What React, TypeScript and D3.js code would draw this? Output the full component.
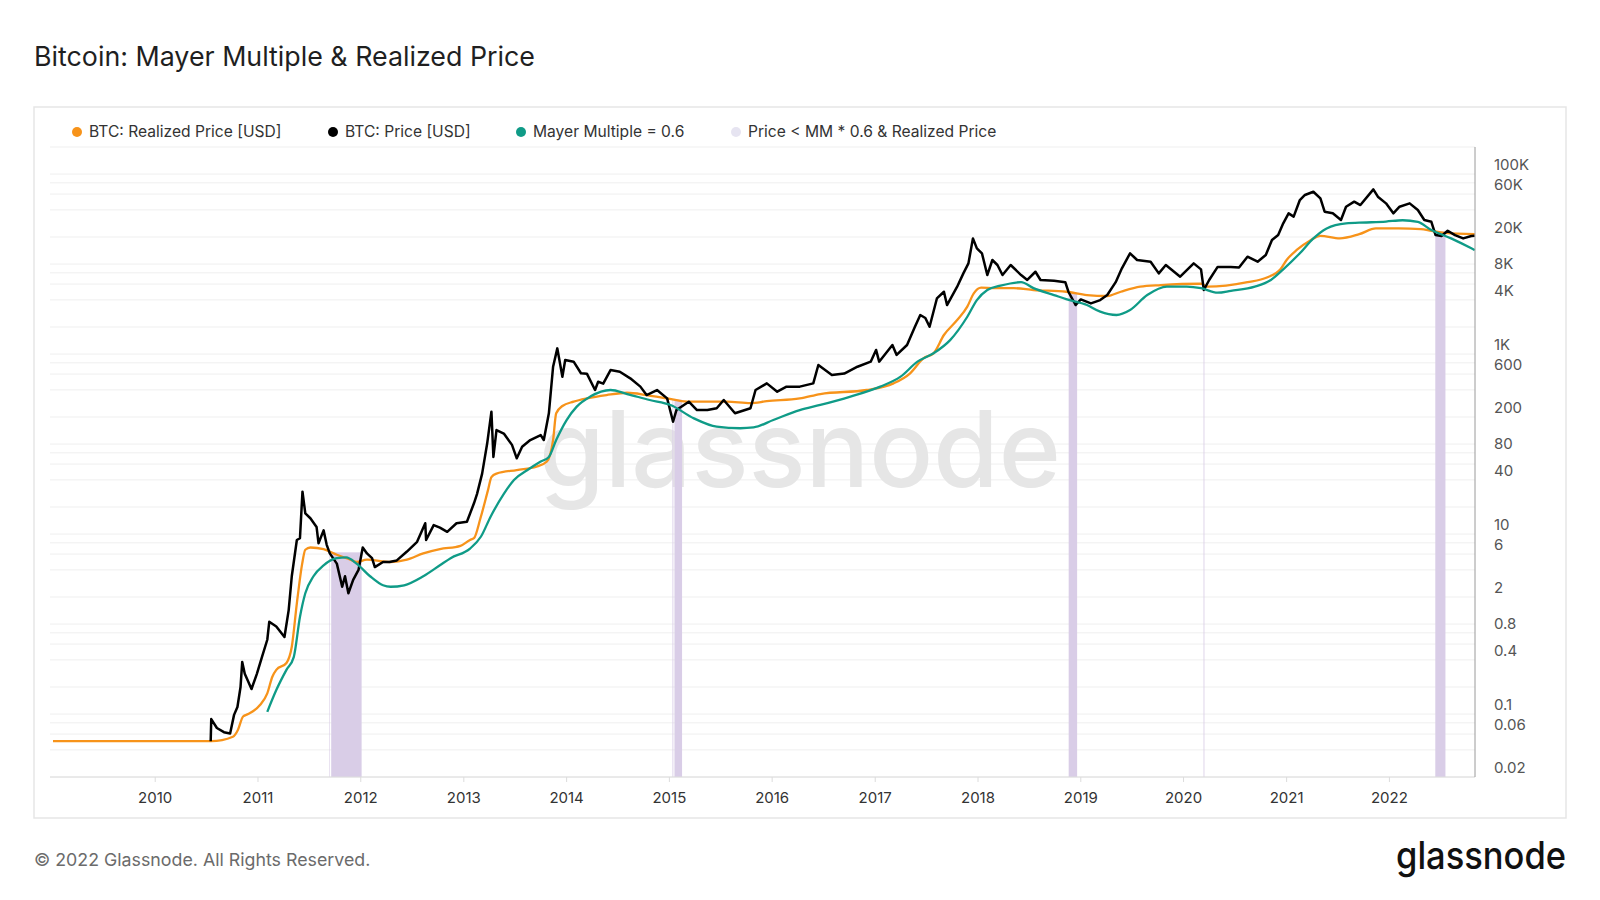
import React from 'react';
import * as d3 from 'd3';

type Pt = [string, number];

// BTC price [USD]
const priceSeries: Pt[] = [
  ['2010-07-17', 0.05], ['2010-07-19', 0.088], ['2010-08-08', 0.07], ['2010-09-02', 0.063], ['2010-09-24', 0.061],
  ['2010-10-08', 0.098], ['2010-10-20', 0.12], ['2010-10-31', 0.2], ['2010-11-06', 0.38], ['2010-11-15', 0.28],
  ['2010-12-09', 0.19], ['2010-12-28', 0.28], ['2011-01-15', 0.43], ['2011-02-03', 0.67], ['2011-02-10', 1.06],
  ['2011-03-07', 0.94], ['2011-04-05', 0.72], ['2011-04-20', 1.43], ['2011-05-01', 3.4], ['2011-05-19', 8.6],
  ['2011-05-30', 9], ['2011-06-08', 29.6], ['2011-06-18', 17], ['2011-07-06', 15], ['2011-07-28', 12],
  ['2011-08-04', 7.9], ['2011-08-22', 11], ['2011-09-02', 7.6], ['2011-09-13', 6.1], ['2011-10-08', 4.7],
  ['2011-10-27', 2.6], ['2011-11-06', 3.4], ['2011-11-18', 2.2], ['2011-12-05', 3.1], ['2011-12-24', 4],
  ['2012-01-08', 7.1], ['2012-01-23', 6.1], ['2012-02-10', 5.4], ['2012-02-20', 4.3], ['2012-03-20', 4.9],
  ['2012-04-12', 4.9], ['2012-05-08', 5.1], ['2012-06-13', 6.4], ['2012-07-19', 8.2], ['2012-08-17', 13.2], ['2012-08-20', 8.6],
  ['2012-09-16', 12.6], ['2012-10-08', 11.8], ['2012-11-03', 10.6], ['2012-12-06', 13.2], ['2013-01-12', 13.7],
  ['2013-02-06', 22], ['2013-02-17', 28], ['2013-03-07', 47], ['2013-03-25', 102], ['2013-04-09', 229],
  ['2013-04-16', 72], ['2013-04-27', 143], ['2013-05-23', 131], ['2013-06-21', 98], ['2013-07-08', 69.5],
  ['2013-07-27', 93.5], ['2013-08-25', 111], ['2013-10-01', 126], ['2013-10-12', 111], ['2013-10-30', 220],
  ['2013-11-14', 724], ['2013-11-29', 1158], ['2013-12-17', 561], ['2013-12-27', 859], ['2014-01-26', 824],
  ['2014-02-21', 612], ['2014-03-14', 606], ['2014-04-12', 399], ['2014-04-23', 493], ['2014-05-11', 470],
  ['2014-06-06', 665], ['2014-07-09', 637], ['2014-08-15', 538], ['2014-09-20', 435], ['2014-10-12', 351],
  ['2014-11-18', 399], ['2014-12-24', 322], ['2015-01-14', 177], ['2015-01-26', 239], ['2015-03-11', 296],
  ['2015-04-09', 239], ['2015-05-16', 239], ['2015-06-18', 250], ['2015-07-13', 309], ['2015-08-22', 220],
  ['2015-10-16', 250], ['2015-11-03', 399], ['2015-12-13', 473], ['2016-01-19', 382], ['2016-02-21', 435],
  ['2016-04-08', 435], ['2016-05-26', 473], ['2016-06-13', 757], ['2016-07-31', 586], ['2016-09-13', 607],
  ['2016-10-30', 724], ['2016-12-16', 824], ['2017-01-04', 1112], ['2017-01-15', 824], ['2017-03-03', 1262],
  ['2017-03-18', 978], ['2017-04-24', 1262], ['2017-05-22', 2012], ['2017-06-10', 2716], ['2017-06-28', 2517],
  ['2017-07-13', 2012], ['2017-08-08', 4150], ['2017-09-02', 4930], ['2017-09-13', 3508], ['2017-10-19', 5610],
  ['2017-11-10', 7890], ['2017-11-28', 10190], ['2017-12-14', 19300], ['2017-12-28', 14960], ['2018-01-15', 13180],
  ['2018-02-03', 7560], ['2018-02-21', 11100], ['2018-03-11', 9770], ['2018-03-29', 7560], ['2018-04-27', 9770],
  ['2018-06-03', 7560], ['2018-06-25', 6660], ['2018-07-24', 8220], ['2018-08-11', 6660], ['2018-09-28', 6540],
  ['2018-11-07', 6300], ['2018-11-18', 4930], ['2018-12-14', 3508], ['2019-01-01', 4050], ['2019-02-06', 3660],
  ['2019-03-11', 3980], ['2019-04-05', 4530], ['2019-05-05', 6300], ['2019-05-27', 8970], ['2019-06-25', 13180],
  ['2019-07-20', 11100], ['2019-09-06', 10640], ['2019-10-05', 7890], ['2019-10-30', 9770], ['2019-12-20', 7250],
  ['2020-02-06', 10190], ['2020-03-03', 8740], ['2020-03-13', 5150], ['2020-04-01', 6660], ['2020-05-01', 9300],
  ['2020-06-17', 9300], ['2020-07-16', 9150], ['2020-08-15', 12080], ['2020-09-20', 10640], ['2020-10-19', 12620],
  ['2020-11-10', 18530], ['2020-12-02', 21040], ['2020-12-20', 28380], ['2021-01-08', 36640], ['2021-01-26', 33650],
  ['2021-02-17', 51520], ['2021-03-07', 58600], ['2021-04-06', 63700], ['2021-05-01', 53700], ['2021-05-16', 38200],
  ['2021-06-14', 36640], ['2021-07-13', 30900], ['2021-07-31', 43400], ['2021-08-29', 49400], ['2021-09-20', 45300],
  ['2021-11-05', 67700], ['2021-11-21', 56100], ['2021-12-20', 47300], ['2022-01-15', 36640], ['2022-02-06', 43400],
  ['2022-03-14', 47300], ['2022-04-12', 39900], ['2022-05-05', 30900], ['2022-05-30', 29500], ['2022-06-14', 21040],
  ['2022-07-05', 20500], ['2022-07-27', 23500], ['2022-08-22', 21000], ['2022-09-20', 19300], ['2022-10-19', 20500],
  ['2022-10-31', 20600],
];

// BTC realized price [USD]
const realizedSeries: Pt[] = [
  ['2009-01-03', 0.05], ['2010-07-19', 0.05], ['2010-10-04', 0.056], ['2010-10-22', 0.067], ['2010-11-09', 0.094],
  ['2010-11-27', 0.1], ['2011-01-08', 0.126], ['2011-02-03', 0.17], ['2011-02-21', 0.26], ['2011-03-07', 0.31],
  ['2011-04-12', 0.37], ['2011-05-01', 0.56], ['2011-05-19', 1.7], ['2011-06-07', 4.7], ['2011-06-18', 6.7],
  ['2011-07-06', 7.1], ['2011-08-22', 6.8], ['2011-10-08', 5.9], ['2011-11-25', 5.2], ['2011-12-17', 4.9],
  ['2012-01-23', 5.2], ['2012-04-16', 4.9], ['2012-06-13', 5.2], ['2012-08-10', 6.1], ['2012-10-08', 6.8],
  ['2012-12-20', 7.4], ['2013-01-23', 8.6], ['2013-02-06', 9], ['2013-03-01', 15], ['2013-03-28', 31],
  ['2013-04-09', 43], ['2013-04-27', 47], ['2013-07-08', 51.5], ['2013-09-16', 56], ['2013-10-23', 64],
  ['2013-11-14', 111], ['2013-11-25', 220], ['2013-12-17', 265], ['2014-01-26', 296], ['2014-03-14', 322],
  ['2014-05-23', 351], ['2014-08-04', 372], ['2014-10-12', 351], ['2014-12-24', 322], ['2015-03-04', 296],
  ['2015-07-24', 296], ['2015-10-16', 285], ['2015-12-13', 300], ['2016-04-08', 322], ['2016-06-20', 360],
  ['2016-12-02', 399], ['2017-03-07', 473], ['2017-05-05', 612], ['2017-06-21', 898], ['2017-07-27', 1020],
  ['2017-09-02', 1630], ['2017-10-19', 2390], ['2017-11-24', 3370], ['2017-12-17', 4730], ['2018-01-12', 5470],
  ['2018-02-28', 5400], ['2018-05-08', 5400], ['2018-07-17', 5150], ['2018-11-10', 4930], ['2019-01-23', 4530],
  ['2019-04-05', 4420], ['2019-05-23', 4930], ['2019-07-31', 5610], ['2019-10-12', 5840], ['2020-03-03', 6050],
  ['2020-03-25', 5610], ['2020-08-15', 6300], ['2020-10-23', 7100], ['2020-12-10', 8740], ['2021-01-01', 11100],
  ['2021-02-06', 14350], ['2021-03-26', 18300], ['2021-05-01', 20600], ['2021-07-09', 19300], ['2021-09-16', 21500],
  ['2021-11-14', 24900], ['2022-02-03', 24900], ['2022-04-23', 24500], ['2022-05-30', 23400], ['2022-07-17', 22200],
  ['2022-10-31', 21500],
];

// Mayer Multiple = 0.6 (0.6 x 200d moving average)
const mayerSeries: Pt[] = [
  ['2011-02-03', 0.106], ['2011-03-07', 0.185], ['2011-04-12', 0.31], ['2011-05-08', 0.43], ['2011-05-30', 1.2],
  ['2011-06-18', 2.2], ['2011-07-17', 3.4], ['2011-08-22', 4.5], ['2011-10-08', 5.4], ['2011-11-10', 5.5],
  ['2011-12-17', 4.7], ['2012-02-03', 3.4], ['2012-03-20', 2.7], ['2012-04-16', 2.6], ['2012-06-03', 2.7],
  ['2012-08-10', 3.4], ['2012-10-08', 4.5], ['2012-11-15', 5.4], ['2013-01-23', 6.9], ['2013-03-03', 9.4],
  ['2013-04-06', 15.6], ['2013-05-23', 28], ['2013-06-28', 40], ['2013-08-15', 51.5], ['2013-10-01', 64],
  ['2013-10-30', 72], ['2013-11-25', 111], ['2014-01-01', 185], ['2014-02-06', 261], ['2014-03-26', 337],
  ['2014-06-06', 399], ['2014-08-04', 360], ['2014-10-23', 309], ['2015-01-05', 272], ['2015-03-29', 193],
  ['2015-06-18', 156], ['2015-09-10', 150], ['2015-10-27', 153], ['2016-01-05', 185], ['2016-04-08', 239],
  ['2016-06-20', 272], ['2016-10-05', 337], ['2017-01-19', 435], ['2017-04-01', 561], ['2017-05-31', 824],
  ['2017-07-27', 1020], ['2017-09-24', 1430], ['2017-11-24', 2600], ['2017-12-28', 3980], ['2018-02-03', 5150],
  ['2018-03-22', 5760], ['2018-06-03', 6300], ['2018-07-17', 5400], ['2018-09-28', 4530], ['2018-11-10', 4080],
  ['2019-01-23', 3510], ['2019-03-11', 2960], ['2019-05-08', 2720], ['2019-06-25', 3090], ['2019-08-25', 4530],
  ['2019-11-03', 5620], ['2020-01-12', 5620], ['2020-03-03', 5400], ['2020-05-01', 4810], ['2020-06-17', 5050],
  ['2020-09-10', 5610], ['2020-11-06', 6660], ['2020-12-20', 8740], ['2021-02-17', 13180], ['2021-04-06', 19300],
  ['2021-05-23', 24900], ['2021-07-31', 28380], ['2021-10-12', 29000], ['2021-12-20', 29700], ['2022-02-17', 30700],
  ['2022-04-12', 29400], ['2022-05-30', 23900], ['2022-08-08', 19300], ['2022-10-19', 14960], ['2022-10-31', 14300],
];

// periods where Price < MM * 0.6 & Realized Price
const bandPeriods: [string, string][] = [
  ['2011-09-11', '2011-09-13'], ['2011-09-18', '2012-01-04'],
  ['2015-01-12', '2015-01-15'], ['2015-01-19', '2015-02-15'],
  ['2018-11-19', '2018-12-19'],
  ['2020-03-12', '2020-03-15'],
  ['2022-06-13', '2022-07-19'],
];

const yearTicks = ['2010', '2011', '2012', '2013', '2014', '2015', '2016', '2017', '2018', '2019', '2020', '2021', '2022'];
const yTickValues = [100000, 60000, 20000, 8000, 4000, 1000, 600, 200, 80, 40, 10, 6, 2, 0.8, 0.4, 0.1, 0.06, 0.02];
const yTickLabels = ['100K', '60K', '20K', '8K', '4K', '1K', '600', '200', '80', '40', '10', '6', '2', '0.8', '0.4', '0.1', '0.06', '0.02'];
const gridMantissas = [1, 2, 4, 6, 8];

const legendItems = [
  { label: 'BTC: Realized Price [USD]', color: '#f7931a', x: 77 },
  { label: 'BTC: Price [USD]', color: '#000000', x: 333 },
  { label: 'Mayer Multiple = 0.6', color: '#0f9b87', x: 521 },
  { label: 'Price < MM * 0.6 & Realized Price', color: '#e6e4f1', x: 736 },
];

const FONT = 'Inter, "Noto Sans", sans-serif';

export default function App() {
  const parse = d3.utcParse('%Y-%m-%d');
  const left = 53, right = 1475, top = 147, bottom = 777;

  const x = d3.scaleUtc()
    .domain([parse('2009-01-03')!, parse('2022-11-01')!])
    .range([left, right]);
  const y = d3.scaleLog().domain([0.02, 200000]).range([bottom, top]);

  const toPts = (s: Pt[]) => s.map(([d, v]) => ({ date: parse(d)!, value: v }));
  const price = toPts(priceSeries);
  const realized = toPts(realizedSeries);
  const mayer = toPts(mayerSeries);

  const lineSharp = d3.line<{ date: Date; value: number }>()
    .x(d => x(d.date))
    .y(d => y(d.value));
  const lineSmooth = d3.line<{ date: Date; value: number }>()
    .x(d => x(d.date))
    .y(d => y(d.value))
    .curve(d3.curveMonotoneX);

  // grid values at 1,2,4,6,8 x 10^n inside the domain
  const gridValues: number[] = [];
  for (let e = -2; e <= 5; e++) {
    gridMantissas.forEach(m => {
      const v = m * Math.pow(10, e);
      if (v >= 0.02 - 1e-9 && v <= 200000 + 1e-6) gridValues.push(v);
    });
  }

  // top of a shaded band = realized price at that date
  const bis = d3.bisector((d: { date: Date }) => d.date).left;
  const realizedAt = (dt: Date) => {
    const i = Math.max(1, Math.min(realized.length - 1, bis(realized, dt)));
    const a = realized[i - 1], b = realized[i];
    const t = (+dt - +a.date) / (+b.date - +a.date);
    return Math.exp(Math.log(a.value) + t * (Math.log(b.value) - Math.log(a.value)));
  };

  return (
    <div style={{ position: 'absolute', left: 0, top: 0, width: 1600, height: 900, background: '#fff' }}>
      <svg width={1600} height={900} style={{ display: 'block' }} fontFamily={FONT}>
        <rect x={0} y={0} width={1600} height={900} fill="#fff" />
        <text x={34} y={66} fontSize={26.8} fill="#1f1f1f">Bitcoin: Mayer Multiple &amp; Realized Price</text>

        <rect x={34} y={107} width={1532} height={711} fill="#fff" stroke="#e6e6e6" strokeWidth={1.5} />

        {/* legend */}
        {legendItems.map(it => (
          <g key={it.label}>
            <circle cx={it.x} cy={132} r={5} fill={it.color} />
            <text x={it.x + 12} y={132} dy="0.35em" fontSize={15.6} fill="#333">{it.label}</text>
          </g>
        ))}

        {/* grid */}
        {gridValues.map(v => (
          <line key={v} x1={left - 3} x2={right} y1={y(v)} y2={y(v)} stroke="#efefef" strokeWidth={1} />
        ))}

        {/* watermark */}
        <text x={800} y={487} textAnchor="middle" fontSize={106} fontWeight={500} fill="#e6e6e6"
          textLength={522} lengthAdjust="spacingAndGlyphs">glassnode</text>

        {/* shaded periods */}
        {bandPeriods.map(([s, e]) => {
          const ds = parse(s)!, de = parse(e)!;
          const yt = y(realizedAt(ds));
          return (
            <rect key={s} x={x(ds)} y={yt} width={Math.max(0.5, x(de) - x(ds))} height={bottom - yt}
              fill="#d9cde7" />
          );
        })}

        {/* series */}
        <path d={lineSmooth(realized) || ''} fill="none" stroke="#f7931a" strokeWidth={2.3} />
        <path d={lineSharp(price) || ''} fill="none" stroke="#000" strokeWidth={2.5} strokeLinejoin="round" />
        <path d={lineSmooth(mayer) || ''} fill="none" stroke="#0f9b87" strokeWidth={2.3} />

        {/* x axis */}
        <line x1={left - 3} x2={right} y1={bottom} y2={bottom} stroke="#dcdcdc" />
        {yearTicks.map(yr => {
          const xx = x(parse(`${yr}-01-01`)!);
          return (
            <g key={yr}>
              <line x1={xx} x2={xx} y1={bottom} y2={bottom + 5} stroke="#dcdcdc" />
              <text x={xx} y={798} dy="0.35em" textAnchor="middle" fontSize={15} fill="#333">{yr}</text>
            </g>
          );
        })}

        {/* y axis */}
        <line x1={right} x2={right} y1={top} y2={bottom} stroke="#9a9a9a" />
        {yTickValues.map((v, i) => (
          <text key={v} x={1494} y={y(v) - 9} dy="0.35em" fontSize={15} fill="#555">{yTickLabels[i]}</text>
        ))}

        {/* footer */}
        <text x={34} y={866} fontSize={17.8} fill="#6b6b6b">© 2022 Glassnode. All Rights Reserved.</text>
        <text x={1566} y={869} textAnchor="end" fontSize={38} fontWeight={500} fill="#111"
          textLength={170} lengthAdjust="spacingAndGlyphs">glassnode</text>
      </svg>
    </div>
  );
}
